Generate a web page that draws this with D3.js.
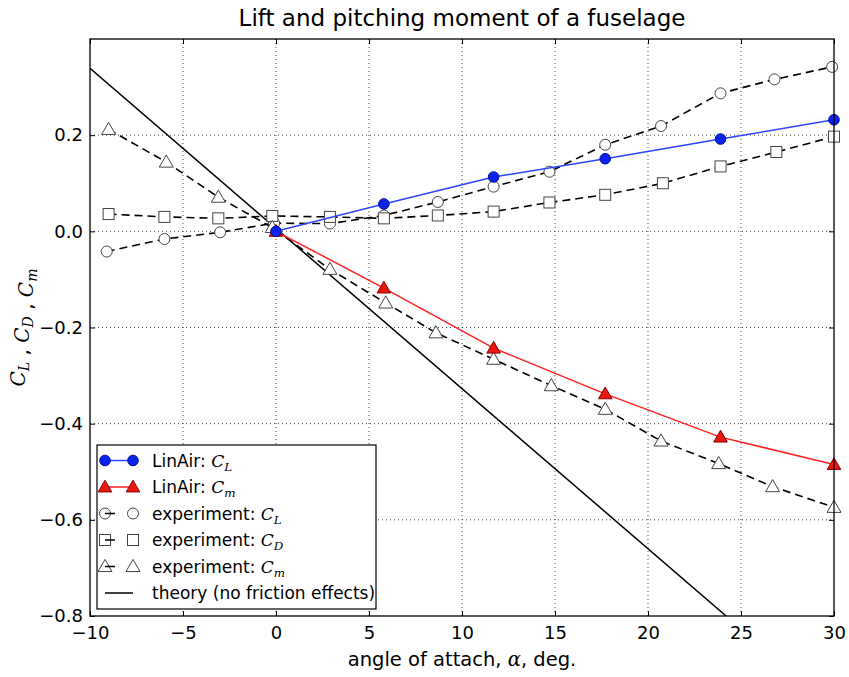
<!DOCTYPE html>
<html><head><meta charset="utf-8">
<script src="https://cdn.jsdelivr.net/npm/d3@7"></script>
<style>
body{margin:0;background:#fff;}
svg{display:block;}
text{font-family:"DejaVu Sans",sans-serif;fill:#000;}
.m{font-family:"DejaVu Serif","Liberation Serif",serif;font-style:italic;}
</style></head>
<body>
<svg id="chart" width="849" height="677"></svg>
<script>
// ---- data ----
const xTicks = [-10, -5, 0, 5, 10, 15, 20, 25, 30];
const yTicks = [-0.8, -0.6, -0.4, -0.2, 0.0, 0.2];

const linAlpha = [0, 5.8, 11.7, 17.7, 23.9, 30];
const linCL = [0, 0.057, 0.113, 0.151, 0.192, 0.232];
const linCm = [0, -0.118, -0.243, -0.338, -0.428, -0.485];

const expCLAlpha = [-9.1, -6.0, -3.0, -0.1, 2.9, 5.8, 8.7, 11.7, 14.7, 17.7, 20.7, 23.9, 26.8, 29.9];
const expCL = [-0.042, -0.016, -0.002, 0.017, 0.016, 0.033, 0.061, 0.093, 0.124, 0.180, 0.219, 0.287, 0.316, 0.342];

const expCDAlpha = [-9.0, -6.0, -3.1, -0.2, 2.9, 5.8, 8.7, 11.7, 14.7, 17.7, 20.8, 23.9, 26.9, 30];
const expCD = [0.036, 0.030, 0.027, 0.032, 0.030, 0.027, 0.033, 0.041, 0.060, 0.076, 0.100, 0.135, 0.165, 0.197];

const expCmAlpha = [-9.0, -5.9, -3.1, -0.2, 2.9, 5.9, 8.6, 11.7, 14.8, 17.7, 20.7, 23.8, 26.7, 30];
const expCm = [0.212, 0.144, 0.071, 0.008, -0.079, -0.149, -0.211, -0.266, -0.321, -0.370, -0.436, -0.483, -0.531, -0.574];

const theoryAlpha = [-10, 24.2];
const theoryC = [0.339, -0.8];

// ---- layout ----
const svg = d3.select("#chart");
const L = 90, R = 834, T = 39, B = 616;
const x = d3.scaleLinear().domain([-10, 30]).range([L, R]);
const y = d3.scaleLinear().domain([-0.8, 0.4]).range([B, T]);

svg.append("defs").append("clipPath").attr("id","clip")
  .append("rect").attr("x",L).attr("y",T).attr("width",R-L).attr("height",B-T);

// grid
const g = svg.append("g");
g.selectAll(".gx").data(xTicks.slice(1,-1)).join("line")
  .attr("x1",d=>x(d)).attr("x2",d=>x(d)).attr("y1",T).attr("y2",B)
  .attr("stroke","#444").attr("stroke-width",1).attr("stroke-dasharray","1,3");
g.selectAll(".gy").data(yTicks.slice(1)).join("line")
  .attr("y1",d=>y(d)).attr("y2",d=>y(d)).attr("x1",L).attr("x2",R)
  .attr("stroke","#444").attr("stroke-width",1).attr("stroke-dasharray","1,3");

// axes (ticks inward on all sides)
const fmtY = d => d3.format(".1f")(d).replace("-","\u2212");
const fmtX = d => String(d).replace("-","\u2212");
const axB = svg.append("g").attr("transform",`translate(0,${B})`)
  .call(d3.axisBottom(x).tickValues(xTicks).tickSizeInner(-5).tickSizeOuter(0).tickPadding(10).tickFormat(fmtX));
const axT = svg.append("g").attr("transform",`translate(0,${T})`)
  .call(d3.axisTop(x).tickValues(xTicks).tickSizeInner(-5).tickSizeOuter(0).tickFormat(""));
const axL = svg.append("g").attr("transform",`translate(${L},0)`)
  .call(d3.axisLeft(y).tickValues(yTicks).tickSizeInner(-5).tickSizeOuter(0).tickPadding(7).tickFormat(fmtY));
const axR = svg.append("g").attr("transform",`translate(${R},0)`)
  .call(d3.axisRight(y).tickValues(yTicks).tickSizeInner(-5).tickSizeOuter(0).tickFormat(""));
[axB,axT,axL,axR].forEach(a=>{ a.select(".domain").remove(); a.selectAll("line").attr("stroke","#000"); });
axB.selectAll("text").attr("font-size",18).attr("font-family","DejaVu Sans");
axL.selectAll("text").attr("font-size",18).attr("font-family","DejaVu Sans");

// lines
const pts = (xs, ys) => xs.map((a,i)=>[x(a), y(ys[i])]);
const line = d3.line();
const plot = svg.append("g").attr("clip-path","url(#clip)");

plot.append("path").attr("d",line(pts(theoryAlpha,theoryC))).attr("fill","none").attr("stroke","#000").attr("stroke-width",1.5);
[[expCLAlpha,expCL],[expCDAlpha,expCD],[expCmAlpha,expCm]].forEach(([a,v])=>{
  plot.append("path").attr("d",line(pts(a,v))).attr("fill","none").attr("stroke","#000")
    .attr("stroke-width",1.6).attr("stroke-dasharray","8,5");
});

// markers
function drawCircle(sel, px, py, r, fill, stroke){
  sel.append("circle").attr("cx",px).attr("cy",py).attr("r",r).attr("fill",fill).attr("stroke",stroke).attr("stroke-width",1);
}
function drawSquare(sel, px, py, s, fill, stroke){
  sel.append("rect").attr("x",px-s/2).attr("y",py-s/2).attr("width",s).attr("height",s).attr("fill",fill).attr("stroke",stroke).attr("stroke-width",1);
}
function drawTri(sel, px, py, size, fill, stroke){
  sel.append("path").attr("d",d3.symbol().type(d3.symbolTriangle).size(size)()).attr("transform",`translate(${px},${py+1})`)
    .attr("fill",fill).attr("stroke",stroke).attr("stroke-width",1);
}
const mk = svg.append("g");
pts(expCLAlpha,expCL).forEach(p=>drawCircle(mk,p[0],p[1],5.5,"#fff","#444"));
pts(expCDAlpha,expCD).forEach(p=>drawSquare(mk,p[0],p[1],11,"#fff","#444"));
pts(expCmAlpha,expCm).forEach(p=>drawTri(mk,p[0],p[1],85,"#fff","#444"));

svg.append("path").attr("d",line(pts(linAlpha,linCm))).attr("fill","none").attr("stroke","#ff2020").attr("stroke-width",1.5).attr("clip-path","url(#clip)");
pts(linAlpha,linCm).forEach(p=>drawTri(svg,p[0],p[1],80,"#e8170f","#8a0000"));
svg.append("path").attr("d",line(pts(linAlpha,linCL))).attr("fill","none").attr("stroke","#2a45ff").attr("stroke-width",1.5).attr("clip-path","url(#clip)");
pts(linAlpha,linCL).forEach(p=>drawCircle(svg,p[0],p[1],5.3,"#0a22ee","#001199"));

// frame
svg.append("rect").attr("x",L).attr("y",T).attr("width",R-L).attr("height",B-T)
  .attr("fill","none").attr("stroke","#000").attr("stroke-width",1.3);

// title & labels
svg.append("text").attr("x",(L+R)/2).attr("y",26).attr("text-anchor","middle").attr("font-size",23)
  .text("Lift and pitching moment of a fuselage");
const xl = svg.append("text").attr("x",(L+R)/2).attr("y",666).attr("text-anchor","middle").attr("font-size",19.5);
xl.append("tspan").text("angle of attach, ");
xl.append("tspan").attr("class","m").text("α");
xl.append("tspan").text(", deg.");

function mathC(sel, sub){
  sel.append("tspan").attr("class","m").text("C");
  sel.append("tspan").attr("class","m").attr("font-size","0.7em").attr("dy",4).text(sub);
  sel.append("tspan").attr("dy",-4).text("");
}
const yl = svg.append("text").attr("transform",`translate(25,${(T+B)/2}) rotate(-90)`).attr("text-anchor","middle").attr("font-size",20);
mathC(yl,"L"); yl.append("tspan").text(" , "); mathC(yl,"D"); yl.append("tspan").text(" , "); mathC(yl,"m");

// legend
const lg = svg.append("g");
lg.append("rect").attr("x",97).attr("y",445).attr("width",279).attr("height",164).attr("fill","#fff").attr("stroke","#000").attr("stroke-width",1.2);
const rows = [460.5, 487, 513.5, 540, 566.5, 593];
const hx1 = 105, hx2 = 133, tx = 152;
lg.append("line").attr("x1",hx1).attr("x2",hx2).attr("y1",rows[0]).attr("y2",rows[0]).attr("stroke","#2a45ff").attr("stroke-width",1.5);
drawCircle(lg,hx1,rows[0],5.3,"#0a22ee","#001199"); drawCircle(lg,hx2,rows[0],5.3,"#0a22ee","#001199");
lg.append("line").attr("x1",hx1).attr("x2",hx2).attr("y1",rows[1]).attr("y2",rows[1]).attr("stroke","#ff2020").attr("stroke-width",1.5);
drawTri(lg,hx1,rows[1],80,"#e8170f","#8a0000"); drawTri(lg,hx2,rows[1],80,"#e8170f","#8a0000");
[[drawCircle,5.5],[drawSquare,11],[drawTri,85]].forEach(([fn,s],i)=>{
  const yy = rows[2+i];
  fn(lg,hx1,yy,s,"#fff","#444"); fn(lg,hx2,yy,s,"#fff","#444");
  lg.append("line").attr("x1",hx1).attr("x2",hx2).attr("y1",yy).attr("y2",yy).attr("stroke","#000").attr("stroke-width",1.5).attr("stroke-dasharray","10,20");
});
lg.append("line").attr("x1",hx1).attr("x2",hx2).attr("y1",rows[5]).attr("y2",rows[5]).attr("stroke","#000").attr("stroke-width",1.5);
const labels = [["LinAir: ","L"],["LinAir: ","m"],["experiment: ","L"],["experiment: ","D"],["experiment: ","m"],["theory (no friction effects)",null]];
labels.forEach(([t,sub],i)=>{
  const tt = lg.append("text").attr("x",tx).attr("y",rows[i]+6).attr("font-size",17);
  tt.append("tspan").text(t);
  if(sub) mathC(tt,sub);
});
</script>
</body></html>
